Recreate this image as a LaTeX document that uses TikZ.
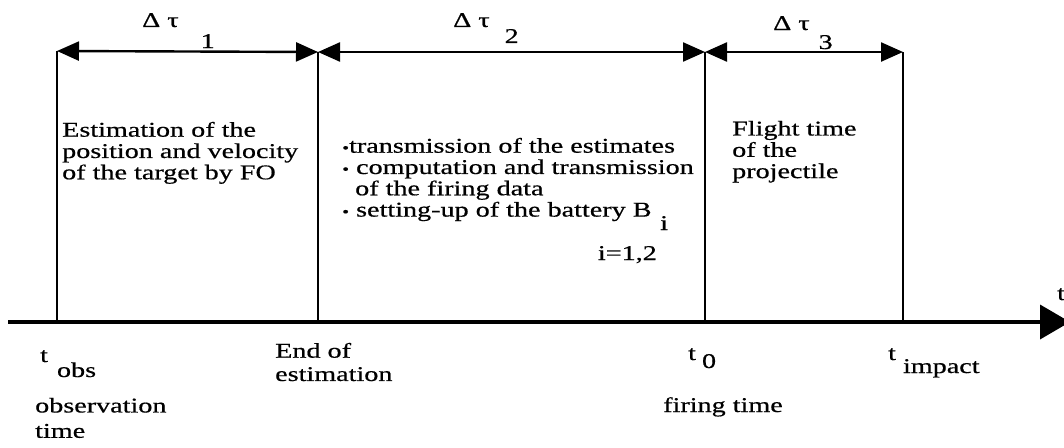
\documentclass[tikz,border=0pt]{standalone}
\usepackage{fontspec}
\setmainfont{Liberation Serif}[FakeStretch=1.34,FakeBold=0.6]
\usetikzlibrary{arrows.meta,positioning}

\tikzset{
  span/.style={line width=2.4pt,{Triangle[length=22pt,width=19pt]}-{Triangle[length=22pt,width=19pt]}},
  tick/.style={line width=2.4pt},
  axis/.style={line width=3.8pt,-{Triangle[length=30pt,width=34pt]}},
  lbl/.style={font=\fontsize{21}{21.3}\selectfont,inner sep=0pt,align=left},
}

\begin{document}
\begin{tikzpicture}[x=1pt,y=-1pt]
\useasboundingbox (0,0) rectangle (1064,447);
% instants on the time axis
\coordinate (obs) at (57,322);
\coordinate (end) at (318,322);
\coordinate (fire) at (705,322);
\coordinate (imp) at (903,322);
\coordinate (start) at (8,322);
\coordinate (tip) at (1070,322);
\coordinate (obs-T) at (57,51);
\coordinate (end-T) at (318,52);
\coordinate (fire-T) at (705,52);
\coordinate (imp-T) at (903,52);

\draw[axis] (start) -- (tip);
\foreach \p in {obs,end,fire,imp}
  \draw[tick] (\p) -- (\p-T);
\draw[span] (obs-T) -- (end-T);
\draw[span] (end-T) -- (fire-T);
\draw[span] (fire-T) -- (imp-T);

% durations
\node[lbl,anchor=base west] (d1) at (142,27) {Δ τ\hspace{22pt}\raisebox{-21pt}{1}};
\node[lbl,anchor=base west] (d2) at (453,27) {Δ τ\hspace{15pt}\raisebox{-16pt}{2}};
\node[lbl,anchor=base west] (d3) at (773,30) {Δ τ\hspace{9pt}\raisebox{-19pt}{3}};

% what happens in each interval
\node[lbl,anchor=north west] (est) at (62,121.7) {Estimation of the\\position and velocity\\of the target by FO};
\node[lbl,anchor=north west] (tasks) at (342,137.7) {%
  \scalebox{0.7}{\textbullet}transmission of the estimates\\
  \scalebox{0.7}{\textbullet} computation and transmission\\
  \hspace*{13pt}of the firing data\\
  \scalebox{0.7}{\textbullet} setting-up of the battery B};
\node[lbl,anchor=base west] (idx) at (660,230) {i};
\node[lbl,anchor=base east] (range) at (657,260) {i=1,2};
\node[lbl,anchor=north west] (flight) at (732,120.7) {Flight time\\of the\\projectile};

% instants
\node[lbl,anchor=base west] (tobs) at (40,362) {t\hspace{9pt}\raisebox{-15pt}{obs}};
\node[lbl,anchor=north west] (obsname) at (35,397.7) {observation\\[4pt]time};
\node[lbl,anchor=north west] (tend) at (275,342.7) {End of\\[2pt]estimation};
\node[lbl,anchor=base west] (tzero) at (688,360) {t\hspace{6pt}\raisebox{-8pt}{0}};
\node[lbl,anchor=base west] (tfire) at (663,412) {firing time};
\node[lbl,anchor=base west] (timp) at (888,360) {t\hspace{7pt}\raisebox{-13pt}{impact}};
\node[lbl,anchor=base west] (taxis) at (1057,300) {t};
\end{tikzpicture}
\end{document}
